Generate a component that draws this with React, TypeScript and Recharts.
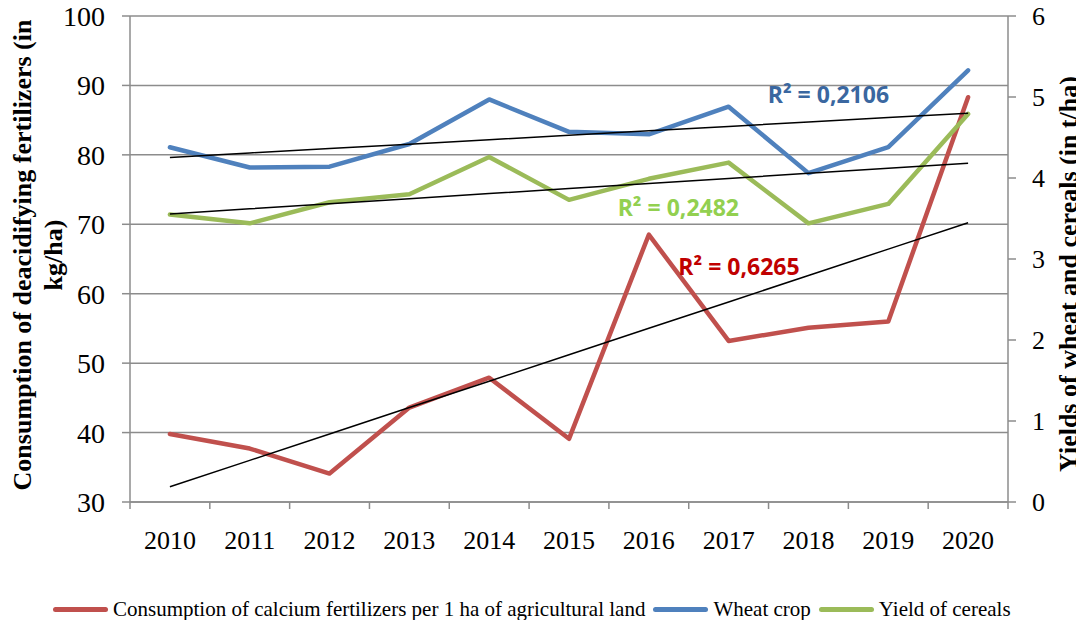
import { ComposedChart, Line, XAxis, YAxis, CartesianGrid, Legend, ReferenceDot } from 'recharts';

const years = [2010, 2011, 2012, 2013, 2014, 2015, 2016, 2017, 2018, 2019, 2020];
// kg/ha, left axis
const calcium = [39.8, 37.7, 34.1, 43.6, 47.9, 39.1, 68.5, 53.2, 55.1, 56.0, 88.3];
// t/ha, right axis
const wheat = [4.38, 4.13, 4.14, 4.42, 4.97, 4.57, 4.54, 4.88, 4.06, 4.38, 5.33];
const cereals = [3.55, 3.44, 3.7, 3.8, 4.26, 3.73, 3.99, 4.19, 3.44, 3.68, 4.79];

const leftTicks = [30, 40, 50, 60, 70, 80, 90, 100];
const rightTicks = [0, 1, 2, 3, 4, 5, 6];

const r2Calcium = 'R² = 0,6265';
const r2Wheat = 'R² = 0,2106';
const r2Cereals = 'R² = 0,2482';

const RED = '#C0504D';
const BLUE = '#4F81BD';
const GREEN = '#9BBB59';
const GRAY = '#8c8c8c';
const SERIF = '"Liberation Serif", "Times New Roman", serif';
const SANS = '"Open Sans", "Noto Sans", sans-serif';

// least squares line, like the excel trendline
function trend(ys: number[]): number[] {
  const n = ys.length;
  const mx = (n - 1) / 2;
  const my = ys.reduce((a, b) => a + b, 0) / n;
  let num = 0;
  let den = 0;
  ys.forEach((y, i) => {
    num += (i - mx) * (y - my);
    den += (i - mx) * (i - mx);
  });
  const k = num / den;
  return ys.map((_, i) => my + k * (i - mx));
}

const calciumTrend = trend(calcium);
const wheatTrend = trend(wheat);
const cerealsTrend = trend(cereals);

const data = years.map((year, i) => ({
  year,
  calcium: calcium[i],
  wheat: wheat[i],
  cereals: cereals[i],
  calciumTrend: calciumTrend[i],
  wheatTrend: wheatTrend[i],
  cerealsTrend: cerealsTrend[i],
}));

function YearTick(props: any) {
  const { x, y, payload } = props;
  const w = typeof props.width === 'number' ? props.width : 878;
  const half = w / years.length / 2;
  const last = payload.value === years[years.length - 1];
  return (
    <g>
      <line x1={x - half} x2={x - half} y1={y} y2={y + 7} stroke={GRAY} strokeWidth={1.5} />
      {last && <line x1={x + half} x2={x + half} y1={y} y2={y + 7} stroke={GRAY} strokeWidth={1.5} />}
      <text x={x} y={y + 47} textAnchor="middle" fontFamily={SERIF} fontSize={26} fill="#000">
        {payload.value}
      </text>
    </g>
  );
}

function LeftTitle(props: any) {
  const vb = props.viewBox;
  const cy = vb.y + vb.height / 2 - 4;
  const x1 = vb.x + 22.5;
  const x2 = vb.x + 53;
  const style = { fontFamily: SERIF, fontSize: 26, fontWeight: 700 };
  return (
    <g>
      <text x={x1} y={cy} transform={`rotate(-90, ${x1}, ${cy})`} textAnchor="middle" dominantBaseline="central" style={style} fill="#000">
        Consumption of deacidifying fertilizers (in
      </text>
      <text x={x2} y={cy} transform={`rotate(-90, ${x2}, ${cy})`} textAnchor="middle" dominantBaseline="central" style={style} fill="#000">
        kg/ha)
      </text>
    </g>
  );
}

function RightTitle(props: any) {
  const vb = props.viewBox;
  const cy = vb.y + vb.height / 2 + 15;
  const cx = vb.x + 60;
  return (
    <text x={cx} y={cy} transform={`rotate(-90, ${cx}, ${cy})`} textAnchor="middle" dominantBaseline="central"
      style={{ fontFamily: SERIF, fontSize: 26, fontWeight: 700 }} fill="#000">
      Yields of wheat and cereals (in t/ha)
    </text>
  );
}

function LegendBox(props: any) {
  const items = (props.payload || []).filter((p: any) => p.type !== 'none');
  return (
    <div style={{ display: 'flex', alignItems: 'center', height: 30, fontFamily: SERIF, fontSize: 21, color: '#000', whiteSpace: 'nowrap' }}>
      {items.map((p: any) => (
        <span key={p.value} style={{ display: 'flex', alignItems: 'center', marginRight: 8 }}>
          <span style={{ display: 'inline-block', width: 55, height: 5, borderRadius: 3, background: p.color, marginRight: 5 }} />
          {p.value}
        </span>
      ))}
    </div>
  );
}

const r2Label = (value: string, fill: string) => ({
  value,
  position: 'center' as const,
  fill,
  fontSize: 23,
  fontWeight: 700,
  fontFamily: SANS,
});

export default function App() {
  return (
    <div style={{ margin: -8 }}>
      <ComposedChart width={1084} height={628} data={data} margin={{ top: 16, right: 0, bottom: 36, left: 0 }}>
        <CartesianGrid yAxisId="left" vertical={false} stroke={GRAY} strokeWidth={1.5} />
        <XAxis
          dataKey="year"
          type="number"
          domain={[years[0] - 0.5, years[years.length - 1] + 0.5]}
          ticks={years}
          interval={0}
          height={60}
          tickSize={0}
          tickMargin={0}
          tickLine={false}
          axisLine={{ stroke: GRAY, strokeWidth: 1.5 }}
          tick={<YearTick />}
        />
        <YAxis
          yAxisId="left"
          width={130}
          domain={[30, 100]}
          ticks={leftTicks}
          interval={0}
          tickSize={8}
          tickMargin={17}
          axisLine={{ stroke: GRAY, strokeWidth: 1.5 }}
          tickLine={{ stroke: GRAY, strokeWidth: 1.5 }}
          tick={{ fill: '#000', fontFamily: SERIF, fontSize: 28 }}
          label={(p: any) => <LeftTitle {...p} />}
        />
        <YAxis
          yAxisId="right"
          orientation="right"
          width={76}
          domain={[0, 6]}
          ticks={rightTicks}
          interval={0}
          tickSize={8}
          tickMargin={16}
          axisLine={{ stroke: GRAY, strokeWidth: 1.5 }}
          tickLine={{ stroke: GRAY, strokeWidth: 1.5 }}
          tick={{ fill: '#000', fontFamily: SERIF, fontSize: 26 }}
          label={(p: any) => <RightTitle {...p} />}
        />
        <Legend
          content={<LegendBox />}
          verticalAlign="bottom"
          wrapperStyle={{ left: 53, top: 594, bottom: 'auto', width: 'auto' }}
        />

        <Line yAxisId="left" dataKey="calcium" name="Consumption of calcium fertilizers per 1 ha of agricultural land"
          stroke={RED} strokeWidth={4.5} dot={false} strokeLinecap="round" strokeLinejoin="round" isAnimationActive={false} />
        <Line yAxisId="right" dataKey="wheat" name="Wheat crop"
          stroke={BLUE} strokeWidth={4.5} dot={false} strokeLinecap="round" strokeLinejoin="round" isAnimationActive={false} />
        <Line yAxisId="right" dataKey="cereals" name="Yield of cereals"
          stroke={GREEN} strokeWidth={4.5} dot={false} strokeLinecap="round" strokeLinejoin="round" isAnimationActive={false} />

        <Line yAxisId="left" dataKey="calciumTrend" stroke="#000" strokeWidth={1.5} dot={false} legendType="none" activeDot={false} isAnimationActive={false} />
        <Line yAxisId="right" dataKey="wheatTrend" stroke="#000" strokeWidth={1.5} dot={false} legendType="none" activeDot={false} isAnimationActive={false} />
        <Line yAxisId="right" dataKey="cerealsTrend" stroke="#000" strokeWidth={1.5} dot={false} legendType="none" activeDot={false} isAnimationActive={false} />

        <ReferenceDot yAxisId="right" x={2018.25} y={5.03} r={1} fill="none" stroke="none" label={r2Label(r2Wheat, '#3A67A0')} />
        <ReferenceDot yAxisId="right" x={2016.37} y={3.63} r={1} fill="none" stroke="none" label={r2Label(r2Cereals, '#92D050')} />
        <ReferenceDot yAxisId="left" x={2017.13} y={63.8} r={1} fill="none" stroke="none" label={r2Label(r2Calcium, '#C00000')} />
      </ComposedChart>
    </div>
  );
}
